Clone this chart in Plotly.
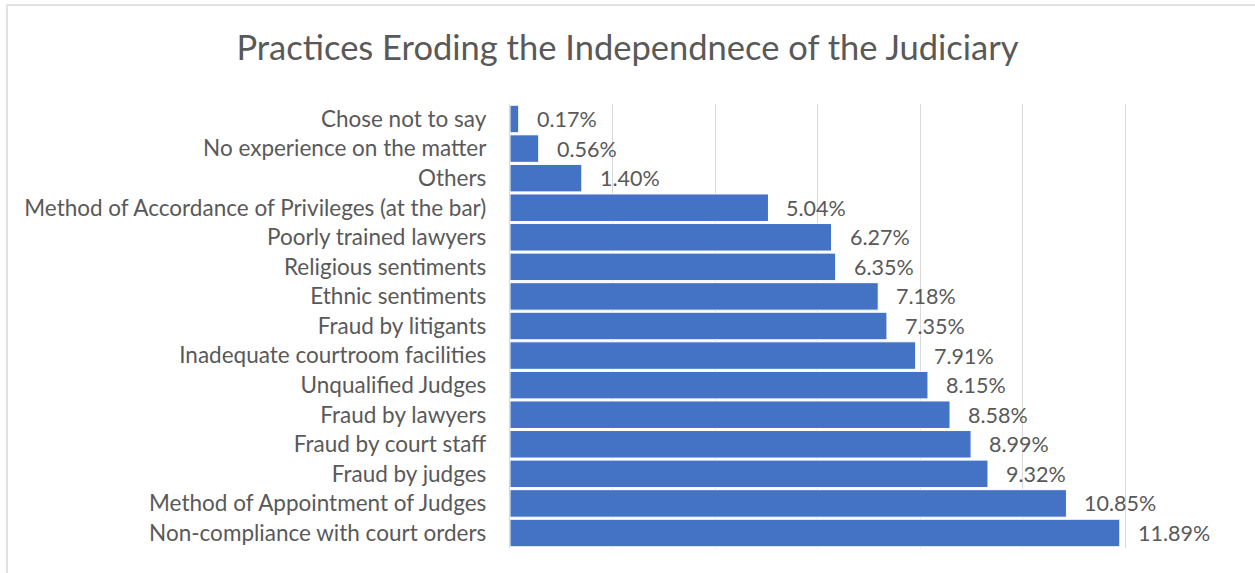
import plotly.graph_objects as go

# Survey responses, listed top to bottom as they appear on the chart
categories = [
    "Chose not to say",
    "No experience on the matter",
    "Others",
    "Method of Accordance of Privileges (at the bar)",
    "Poorly trained lawyers",
    "Religious sentiments",
    "Ethnic sentiments",
    "Fraud by litigants",
    "Inadequate courtroom facilities",
    "Unqualified Judges",
    "Fraud by lawyers",
    "Fraud by court staff",
    "Fraud by judges",
    "Method of Appointment of Judges",
    "Non-compliance with court orders",
]
shares = [0.17, 0.56, 1.40, 5.04, 6.27, 6.35, 7.18, 7.35, 7.91, 8.15, 8.58, 8.99, 9.32, 10.85, 11.89]

W, H = 1255, 573
L, R, T, B = 510, 27, 104, 25

FONT = "Lato"
GREY = "#595959"

fig = go.Figure(
    go.Bar(
        x=shares,
        y=categories,
        orientation="h",
        marker=dict(color="#4472C4", line=dict(color="#ffffff", width=1)),
        hoverinfo="skip",
    )
)

# Value labels to the right of each bar
for cat, val in zip(categories, shares):
    fig.add_annotation(
        x=val, y=cat, text=f"{val:.2f}%", showarrow=False,
        xanchor="left", yanchor="middle", xshift=16, yshift=0,
        font=dict(family=FONT, size=21.5, color=GREY),
    )

# Chart frame
pw, ph = W - L - R, H - T - B
fig.add_shape(
    type="rect", xref="paper", yref="paper",
    x0=(7 - L) / pw, x1=(W + 2 - L) / pw,
    y0=(H - B - (H + 2)) / ph, y1=(H - B - 5) / ph,
    line=dict(color="#D9D9D9", width=1.5), fillcolor="rgba(0,0,0,0)",
    layer="below",
)

fig.update_layout(
    width=W, height=H,
    margin=dict(l=L, r=R, t=T, b=B),
    paper_bgcolor="white", plot_bgcolor="white",
    bargap=0.07,
    showlegend=False,
    title=dict(
        text="Practices Eroding the Independnece of the Judiciary",
        x=0.5, xanchor="center", y=1 - 48 / H, yanchor="middle",
        font=dict(family=FONT, size=34.5, color=GREY),
    ),
    xaxis=dict(
        range=[0, 14], dtick=2, showticklabels=False,
        showgrid=True, gridcolor="#D9D9D9", gridwidth=1.3,
        zeroline=False, showline=False, fixedrange=True,
    ),
    yaxis=dict(
        autorange="reversed", showgrid=False,
        showline=True, linecolor="#D9D9D9", linewidth=1.3,
        ticks="", ticklabelstandoff=18,
        tickfont=dict(family=FONT, size=22.5, color=GREY),
        fixedrange=True,
    ),
)

fig.write_html("out.html")
